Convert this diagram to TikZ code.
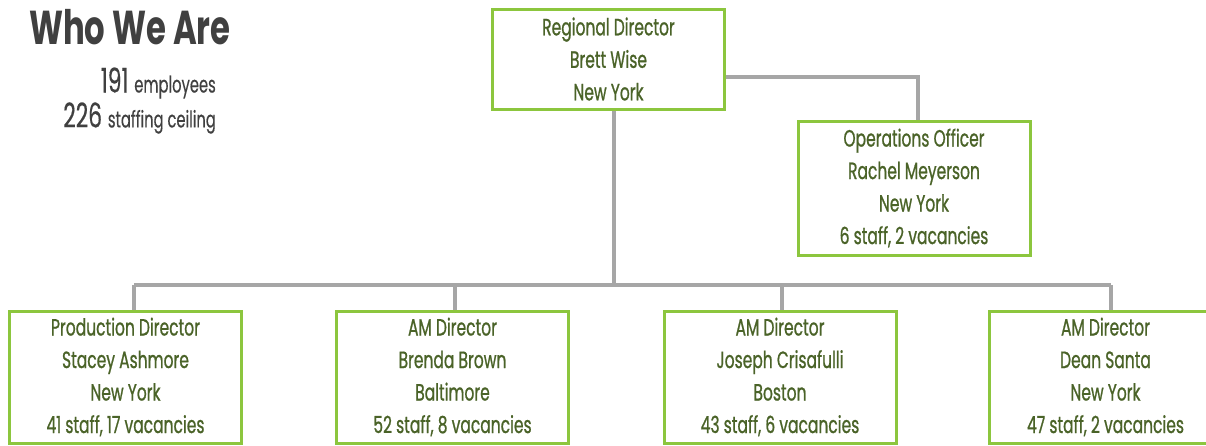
\documentclass[tikz,border=0pt]{standalone}
\usepackage{fontspec}
\setmainfont{Poppins}[FakeStretch=0.68]
\newfontfamily\boxfont{Poppins}[FakeStretch=0.66, FakeBold=0.8]
\newfontfamily\statfont{Poppins}[FakeStretch=0.64, FakeBold=0.4]
\definecolor{boxgreen}{HTML}{8CC63E}
\definecolor{textgreen}{HTML}{4A6328}
\definecolor{linegray}{HTML}{A6A6A6}
\definecolor{titlegray}{HTML}{404040}
\tikzset{
  x=1pt, y=1pt,
  orgbox/.style={draw=boxgreen, line width=3pt, fill=white, text=textgreen,
    minimum width=232pt, inner sep=0pt, align=center,
    font=\boxfont\fontsize{23.5}{32.5}\selectfont},
  conn/.style={draw=linegray, line width=3.5pt},
}
\begin{document}
\begin{tikzpicture}
\useasboundingbox (0,0) rectangle (1206,-445);
\clip (0,0) rectangle (1206,-445);
% title and stats
\node[anchor=west, text=titlegray, font=\fontsize{47.5}{47.5}\selectfont\bfseries, inner sep=0pt] (title) at (29,-27) {Who We Are};
\node[anchor=east, text=titlegray, inner sep=0pt] (emp) at (216,-83) {\statfont\fontsize{34}{34}\selectfont 191 \fontsize{23}{23}\selectfont employees};
\node[anchor=east, text=titlegray, inner sep=0pt] (ceil) at (216,-118) {\statfont\fontsize{34}{34}\selectfont 226 \fontsize{23}{23}\selectfont staffing ceiling};
\coordinate (bus) at (614,-285);
\coordinate (busL) at (134,-285);
\coordinate (busR) at (1111,-285);
% boxes
\node[orgbox, minimum height=100pt] (rd) at (608.5,-59) {Regional Director\\Brett Wise\\New York};
\node[orgbox, minimum height=134pt] (ops) at (914,-188) {Operations Officer\\Rachel Meyerson\\New York\\6 staff, 2 vacancies};
\node[orgbox, minimum height=132pt] (b1) at (125.5,-377) {Production Director\\Stacey Ashmore\\New York\\41 staff, 17 vacancies};
\node[orgbox, minimum height=132pt] (b2) at (452.5,-377) {AM Director\\Brenda Brown\\Baltimore\\52 staff, 8 vacancies};
\node[orgbox, minimum height=132pt] (b3) at (780,-377) {AM Director\\Joseph Crisafulli\\Boston\\43 staff, 6 vacancies};
\node[orgbox, minimum height=132pt] (b4) at (1105.5,-377) {AM Director\\Dean Santa\\New York\\47 staff, 2 vacancies};
% connectors
\draw[conn] ([xshift=5.5pt]rd.south) -- (bus);
\draw[conn] (busL) -- (busR);
\draw[conn] (busL) -- ([xshift=8.5pt]b1.north);
\draw[conn] ([xshift=2.5pt]b2.north |- bus) -- ([xshift=2.5pt]b2.north);
\draw[conn] ([xshift=2pt]b3.north |- bus) -- ([xshift=2pt]b3.north);
\draw[conn] (busR) -- ([xshift=5.5pt]b4.north);
\draw[conn] ([yshift=-18pt]rd.east) -| ([xshift=4pt]ops.north);
\end{tikzpicture}
\end{document}
